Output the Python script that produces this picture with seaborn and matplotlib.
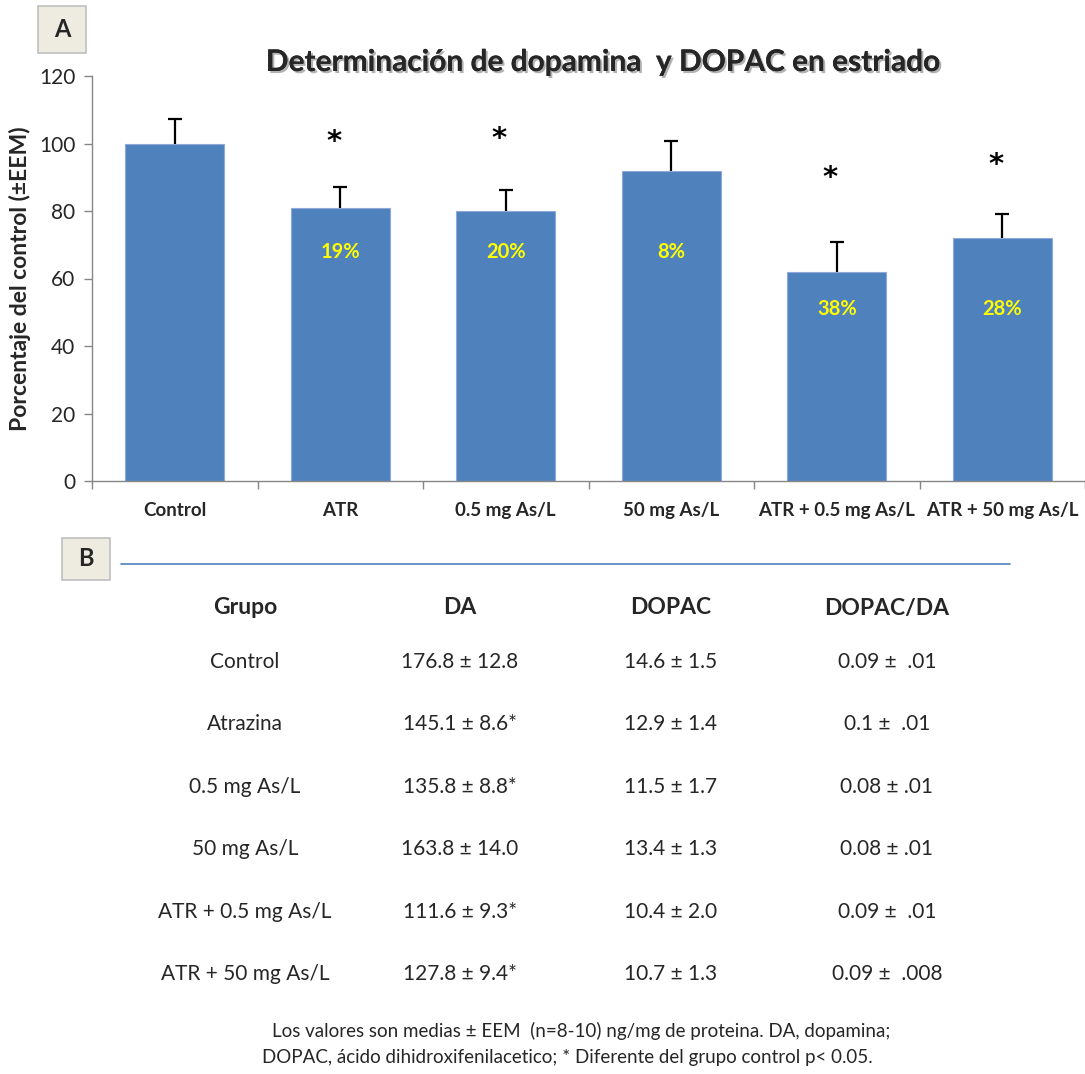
import numpy as np
import pandas as pd
import matplotlib
matplotlib.use("Agg")
import matplotlib.pyplot as plt
import matplotlib.patheffects as pe
from matplotlib.patches import Rectangle
import seaborn as sns

# Panel A: dopamine as percentage of control (mean, SEM)
groups = ["Control", "ATR", "0.5 mg As/L", "50 mg As/L",
          "ATR + 0.5 mg As/L", "ATR + 50 mg As/L"]
percent_of_control = [100, 81, 80, 92, 62, 72]
sem_percent = [7.3, 6.0, 6.2, 8.7, 8.9, 7.0]
reduction_labels = ["", "19%", "20%", "8%", "38%", "28%"]
significant = [False, True, True, False, True, True]

# Panel B: table of absolute values
table_header = ["Grupo", "DA", "DOPAC", "DOPAC/DA"]
table_groups = ["Control", "Atrazina", "0.5 mg As/L", "50 mg As/L",
                "ATR + 0.5 mg As/L", "ATR + 50 mg As/L"]
da_values = ["176.8 ± 12.8", "145.1 ± 8.6*", "135.8 ± 8.8*", "163.8 ± 14.0",
             "111.6 ± 9.3*", "127.8 ± 9.4*"]
dopac_values = ["14.6 ± 1.5", "12.9 ± 1.4", "11.5 ± 1.7", "13.4 ± 1.3",
                "10.4 ± 2.0", "10.7 ± 1.3"]
ratio_values = ["0.09 ±  .01", "0.1 ±  .01", "0.08 ± .01", "0.08 ± .01",
                "0.09 ±  .01", "0.09 ±  .008"]
footnote = ["Los valores son medias ± EEM  (n=8-10) ng/mg de proteina. DA, dopamina;",
            "DOPAC, ácido dihidroxifenilacetico; * Diferente del grupo control p< 0.05."]

sns.set_style("white")
plt.rcParams["font.family"] = ["Lato", "DejaVu Sans"]

W, H = 1085, 1074
fig = plt.figure(figsize=(W / 100, H / 100), dpi=100)

def fx(px):
    return px / W

def fy(py):
    return 1 - py / H

ax = fig.add_axes([fx(92), fy(481), fx(1085) - fx(92), fy(76) - fy(481)])

df = pd.DataFrame({"grupo": groups, "pct": percent_of_control})
bar_blue = "#4F81BD"
sns.barplot(data=df, x="grupo", y="pct", order=groups, color=bar_blue,
            saturation=1, width=0.6, edgecolor="#8EAADB", linewidth=0.8,
            errorbar=None, ax=ax)

xs = np.arange(len(groups))
vals = np.array(percent_of_control, dtype=float)
errs = np.array(sem_percent, dtype=float)
_, caps, _ = ax.errorbar(xs, vals, yerr=[np.zeros_like(errs), errs], fmt="none",
                         ecolor="black", elinewidth=1.6, capsize=5, capthick=1.6)
# keep only the upper caps
for cl in caps:
    if np.allclose(cl.get_ydata(), vals):
        cl.set_visible(False)

# asterisks above significant groups (gap above the error bar, in axis units)
star_gap = [0, 13.5, 15, 0, 19, 14.5]
for x, v, e, s, g in zip(xs, vals, errs, significant, star_gap):
    if s:
        ax.text(x - 0.04, v + e + g, "*", ha="center", va="center",
                fontsize=21, color="black", family="DejaVu Sans",
                fontweight="bold")

# reduction percentages inside the bars
for x, v, lab in zip(xs, vals, reduction_labels):
    if lab:
        ypos = 68 if v >= 75 else 51
        ax.text(x, ypos, lab, ha="center", va="center", fontsize=14.5,
                fontweight="bold", color="#FFFF00")

ax.set_xlim(-0.5, len(groups) - 0.5)
ax.set_ylim(0, 120)
ax.set_yticks(np.arange(0, 121, 20))
ax.tick_params(axis="y", which="major", direction="out", length=6, width=1,
               color="#868686", labelsize=15, pad=6, left=True)
ax.set_xticks(np.arange(-0.5, len(groups), 1.0))
ax.set_xticklabels([])
ax.set_xticks(xs, minor=True)
ax.set_xticklabels(groups, minor=True, fontweight="bold", fontsize=13.5)
ax.tick_params(axis="x", which="major", direction="out", length=6, width=1,
               color="#868686", bottom=True)
ax.tick_params(axis="x", which="minor", length=0, pad=15)
ax.set_xlabel("")
ax.set_ylabel("Porcentaje del control (±EEM)", fontsize=16.5, fontweight="bold",
              labelpad=6)
for side in ["top", "right"]:
    ax.spines[side].set_visible(False)
for side in ["left", "bottom"]:
    ax.spines[side].set_color("#868686")
    ax.spines[side].set_linewidth(1)

# title with soft shadow
fig.text(fx(603), fy(62), "Determinación de dopamina  y DOPAC en estriado",
         ha="center", va="center", fontsize=21.5, fontweight="bold",
         path_effects=[pe.withSimplePatchShadow(offset=(1.5, -1.5),
                                                shadow_rgbFace="#7f7f7f",
                                                alpha=0.6),
                       pe.Normal()])

# panel labels
def panel_label(x0, y0, x1, y1, letter):
    fig.patches.append(Rectangle((fx(x0), fy(y1)), fx(x1) - fx(x0), fy(y0) - fy(y1),
                                 transform=fig.transFigure, facecolor="#EEECE1",
                                 edgecolor="#BFBFBF", linewidth=1.2))
    fig.text(fx((x0 + x1) / 2), fy((y0 + y1) / 2), letter, ha="center",
             va="center", fontsize=17, fontweight="bold")

panel_label(38, 6, 86, 53, "A")
panel_label(62, 538, 110, 580, "B")

# separator line of panel B
fig.add_artist(plt.Line2D([fx(121), fx(1010)], [fy(564), fy(564)],
                          transform=fig.transFigure, color="#4F81BD", lw=1.2))

# table of panel B
col_x = [245, 460, 671, 887]
header_y = 608
row_y0, row_dy = 662, 62.4
for cx, head in zip(col_x, table_header):
    fig.text(fx(cx), fy(header_y), head, ha="center", va="center",
             fontsize=16.5, fontweight="bold")
columns = [table_groups, da_values, dopac_values, ratio_values]
for cx, col in zip(col_x, columns):
    for i, cell in enumerate(col):
        fig.text(fx(cx), fy(row_y0 + i * row_dy), cell, ha="center",
                 va="center", fontsize=15)

fig.text(fx(581), fy(1031), footnote[0], ha="center", va="center", fontsize=13.5)
fig.text(fx(567), fy(1058), footnote[1], ha="center", va="center", fontsize=13.5)

fig.savefig("out.png", dpi=100, facecolor="white")
